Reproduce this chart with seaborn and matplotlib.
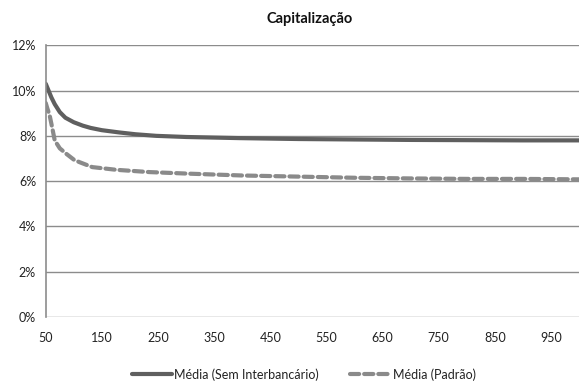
import matplotlib
matplotlib.use("Agg")
import matplotlib.pyplot as plt
import seaborn as sns
import pandas as pd
from matplotlib.ticker import FuncFormatter

# Data (values in %)
x_solid = [50, 55, 60, 66, 75, 85, 100, 116, 130, 150, 181, 210, 247, 300, 395, 500, 600, 700, 800, 900, 1000]
y_solid = [10.3, 10.0, 9.7, 9.4, 9.05, 8.8, 8.6, 8.45, 8.35, 8.25, 8.15, 8.07, 8.0, 7.95, 7.9, 7.86, 7.84, 7.82, 7.81, 7.8, 7.8]
x_dash = [50, 53, 57, 62, 66, 75, 87, 100, 110, 133, 176, 235, 306, 400, 501, 600, 700, 800, 900, 1000]
y_dash = [9.45, 9.2, 8.9, 8.3, 7.8, 7.45, 7.2, 6.95, 6.84, 6.62, 6.5, 6.4, 6.33, 6.25, 6.2, 6.15, 6.12, 6.1, 6.1, 6.08]
series_names = ["Média (Sem Interbancário)", "Média (Padrão)"]
title = "Capitalização"
x_ticks = [50, 150, 250, 350, 450, 550, 650, 750, 850, 950]
y_ticks = [0, 2, 4, 6, 8, 10, 12]

sns.set_style("white")
plt.rcParams['font.family'] = ['Lato', 'DejaVu Sans']

df1 = pd.DataFrame({"x": x_solid, "y": y_solid})
df2 = pd.DataFrame({"x": x_dash, "y": y_dash})

fig = plt.figure(figsize=(5.79, 3.9), dpi=100)
ax = fig.add_axes([0.079, 0.187, 0.921, 0.697])

grid_c = "#8c8c8c"
for t in y_ticks:
    ax.axhline(t, color=grid_c, lw=1.0, zorder=0)

sns.lineplot(data=df1, x="x", y="y", ax=ax, color="#5f5f5f", lw=3.0,
             label=series_names[0], sort=True, legend=False)
sns.lineplot(data=df2, x="x", y="y", ax=ax, color="#8a8a8a", lw=3.0,
             label=series_names[1], sort=True, legend=False,
             dashes=False)
ax.lines[-1].set_dashes([2.2, 1.2])
ax.lines[-1].set_dash_capstyle("round")

ax.set_xlim(50, 1000)
ax.set_ylim(0, 12)
ax.set_xticks(x_ticks)
ax.set_yticks(y_ticks)
ax.yaxis.set_major_formatter(FuncFormatter(lambda v, p: f"{int(v)}%"))
ax.set_xlabel("")
ax.set_ylabel("")

for s in ["top", "right", "bottom"]:
    ax.spines[s].set_visible(False)
ax.spines["left"].set_color(grid_c)
ax.spines["left"].set_linewidth(1.2)
ax.tick_params(axis="both", colors=grid_c, labelcolor="#222222", labelsize=9,
               direction="out", length=4, width=1)
ax.tick_params(axis="x", pad=7)
ax.tick_params(axis="y", pad=3)

fig.text(0.535, 0.95, title, ha="center", va="center", fontsize=10.5,
         fontweight="bold", color="#111111")

handles = ax.lines[-2:]
fig.legend(handles, series_names, loc="center", bbox_to_anchor=(0.525, 0.04),
           ncol=2, frameon=False, fontsize=9, handlelength=3.2,
           columnspacing=2.5, handletextpad=0.2, labelcolor="#222222")

fig.savefig("out.png", dpi=100)
